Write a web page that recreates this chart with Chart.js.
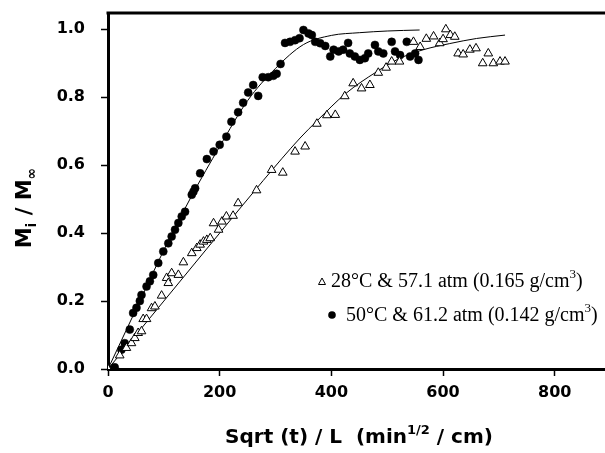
<!DOCTYPE html>
<html><head><meta charset="utf-8">
<script src="https://cdn.jsdelivr.net/npm/chart.js@4.4.1/dist/chart.umd.min.js"></script>
<style>html,body{margin:0;padding:0;background:#fff;overflow:hidden}#wrap{position:relative;width:605px;height:453px}</style>
</head><body><div id="wrap"><canvas id="c" width="605" height="453"></canvas></div>
<script>
// ---- data ----
const xTicks = [0, 200, 400, 600, 800];
const yTicks = [0, 0.2, 0.4, 0.6, 0.8, 1.0];

const label28 = ["28°C & 57.1 atm (0.165 g/cm", "3", ")"];
const label50 = ["50°C & 61.2 atm (0.142 g/cm", "3", ")"];

// 28°C series (open triangles)
const triX = [0,21,33,42,48,54,60,63,69,78,84,96,105,108,114,126,135,150,159,165,171,177,183,189,198,204,212,224,233,266,293,313,335,353,374,392,407,424,439,454,469,484,498,508,522,547,559,570,583,594,600,605,613,621,627,636,648,659,671,681,690,702,711];
const triY = [0,0.04,0.062,0.076,0.091,0.106,0.111,0.147,0.147,0.179,0.184,0.216,0.268,0.253,0.282,0.277,0.314,0.341,0.356,0.366,0.375,0.38,0.385,0.429,0.41,0.434,0.449,0.451,0.488,0.526,0.586,0.578,0.64,0.655,0.722,0.747,0.748,0.803,0.841,0.826,0.836,0.872,0.887,0.905,0.905,0.963,0.948,0.972,0.979,0.959,0.971,1.0,0.983,0.978,0.929,0.926,0.94,0.944,0.9,0.929,0.9,0.905,0.905];

// 50°C series (filled circles)
const circX = [0,12,24,30,39,45,51,57,60,69,75,81,90,99,108,114,120,126,132,138,150,153,156,165,177,189,200,212,221,233,242,251,260,269,277,287,296,302,309,317,326,335,343,350,359,365,371,380,389,398,404,413,421,430,433,442,451,460,466,478,484,493,508,514,523,535,541,550,556];
const circY = [0,0.005,0.057,0.076,0.116,0.165,0.18,0.2,0.218,0.243,0.258,0.277,0.312,0.346,0.37,0.39,0.41,0.43,0.449,0.463,0.513,0.522,0.532,0.576,0.618,0.64,0.66,0.684,0.728,0.756,0.784,0.814,0.836,0.804,0.859,0.859,0.863,0.869,0.898,0.96,0.963,0.968,0.974,0.998,0.988,0.983,0.963,0.959,0.951,0.92,0.94,0.935,0.94,0.96,0.929,0.92,0.91,0.915,0.929,0.954,0.935,0.929,0.963,0.935,0.924,0.963,0.92,0.929,0.91];

// fitted curves
const fitTriX = [0,100,200,278,344,374,425,481,523,565,612,660,711];
const fitTriY = [0,0.2,0.4,0.555,0.68,0.73,0.81,0.875,0.915,0.94,0.958,0.973,0.983];
const fitCircX = [0,50,100,150,200,250,300,350,400,450,500,558];
const fitCircY = [0,0.175,0.35,0.51,0.655,0.79,0.885,0.955,0.982,0.99,0.995,0.998];

const pts = (xs, ys) => xs.map((x, i) => ({x, y: ys[i]}));

function drawRich(ctx, segs, x, y, align) {
  let w = 0;
  for (const s of segs) { ctx.font = s.font; w += ctx.measureText(s.t).width; }
  let cx = align === 'center' ? x - w / 2 : x;
  for (const s of segs) {
    ctx.font = s.font;
    ctx.fillText(s.t, cx, y + (s.dy || 0));
    cx += ctx.measureText(s.t).width;
  }
}

const decor = {
  id: 'decor',
  afterDraw(chart) {
    const ctx = chart.ctx, a = chart.chartArea;
    ctx.save();
    // top frame line
    ctx.strokeStyle = '#000'; ctx.lineWidth = 3;
    ctx.beginPath(); ctx.moveTo(a.left - 1.5, a.top); ctx.lineTo(a.right, a.top); ctx.stroke();

    ctx.fillStyle = '#000';
    ctx.textBaseline = 'alphabetic';
    // x title
    const big = 'bold 20px "DejaVu Sans"', small = 'bold 13px "DejaVu Sans"';
    drawRich(ctx, [
      {t: 'Sqrt (t) / L  (min', font: big},
      {t: '1/2', font: small, dy: -9},
      {t: ' / cm)', font: big}
    ], 359, 443, 'center');
    // y title
    const bigY = 'bold 21px "DejaVu Sans"', smallY = 'bold 14px "DejaVu Sans"';
    ctx.save();
    ctx.translate(31, 208);
    ctx.rotate(-Math.PI / 2);
    drawRich(ctx, [
      {t: 'M', font: bigY},
      {t: 'i', font: smallY, dy: 5},
      {t: ' / M', font: bigY},
      {t: '∞', font: smallY, dy: 5}
    ], 0, 0, 'center');
    ctx.restore();

    // legend
    const serif = '20px "Liberation Serif"', sup = '13px "Liberation Serif"';
    ctx.lineWidth = 1; ctx.strokeStyle = '#000';
    const tx = 322, ty = 282;
    ctx.beginPath(); ctx.moveTo(tx, ty - 4); ctx.lineTo(tx + 3.5, ty + 2.5); ctx.lineTo(tx - 3.5, ty + 2.5); ctx.closePath();
    ctx.fillStyle = '#fff'; ctx.fill(); ctx.stroke();
    ctx.fillStyle = '#000';
    drawRich(ctx, [{t: label28[0], font: serif}, {t: label28[1], font: sup, dy: -9}, {t: label28[2], font: serif}], 331, 287, 'left');
    ctx.beginPath(); ctx.arc(332, 315, 3.8, 0, Math.PI * 2); ctx.fill();
    drawRich(ctx, [{t: label50[0], font: serif}, {t: label50[1], font: sup, dy: -9}, {t: label50[2], font: serif}], 346, 321, 'left');
    ctx.restore();
  }
};

new Chart(document.getElementById('c'), {
  type: 'scatter',
  data: {
    datasets: [
      {label: '28', data: pts(triX, triY), pointStyle: 'triangle', pointRadius: 5,
       backgroundColor: '#fff', borderColor: '#000', borderWidth: 1, order: 0},
      {label: '50', data: pts(circX, circY), pointStyle: 'circle', pointRadius: 4,
       backgroundColor: '#000', borderColor: '#000', borderWidth: 0.5, order: 1},
      {label: 'fit28', type: 'line', data: pts(fitTriX, fitTriY), showLine: true, pointRadius: 0,
       borderColor: '#000', borderWidth: 1, cubicInterpolationMode: 'monotone', fill: false, order: 2},
      {label: 'fit50', type: 'line', data: pts(fitCircX, fitCircY), showLine: true, pointRadius: 0,
       borderColor: '#000', borderWidth: 1, cubicInterpolationMode: 'monotone', fill: false, order: 2}
    ]
  },
  options: {
    responsive: false, animation: false, devicePixelRatio: 1,
    layout: {autoPadding: false, padding: {top: 13, right: 0, left: 0, bottom: 0}},
    plugins: {legend: {display: false}, tooltip: {enabled: false}},
    scales: {
      x: {
        type: 'linear', min: 0, max: 890,
        afterFit: s => { s.height = 84; s.paddingLeft = 0; s.paddingRight = 0; },
        afterBuildTicks: s => { s.ticks = xTicks.map(v => ({value: v})); },
        grid: {drawOnChartArea: false, drawTicks: true, tickLength: 7, tickColor: '#000', tickWidth: 1.5},
        border: {display: true, color: '#000', width: 3},
        ticks: {color: '#000', font: {family: 'DejaVu Sans', size: 16, weight: 'bold'}, padding: 7, maxRotation: 0}
      },
      y: {
        type: 'linear', min: 0, max: 1.048,
        afterFit: s => { s.width = 108; s.paddingTop = 0; s.paddingBottom = 0; },
        afterBuildTicks: s => { s.ticks = yTicks.map(v => ({value: v})); },
        grid: {drawOnChartArea: false, drawTicks: true, tickLength: 7, tickColor: '#000', tickWidth: 1.5},
        border: {display: true, color: '#000', width: 3},
        ticks: {color: '#000', font: {family: 'DejaVu Sans', size: 16, weight: 'bold'}, padding: 16,
                callback: v => v.toFixed(1)}
      }
    }
  },
  plugins: [decor]
});
</script>
</body></html>
